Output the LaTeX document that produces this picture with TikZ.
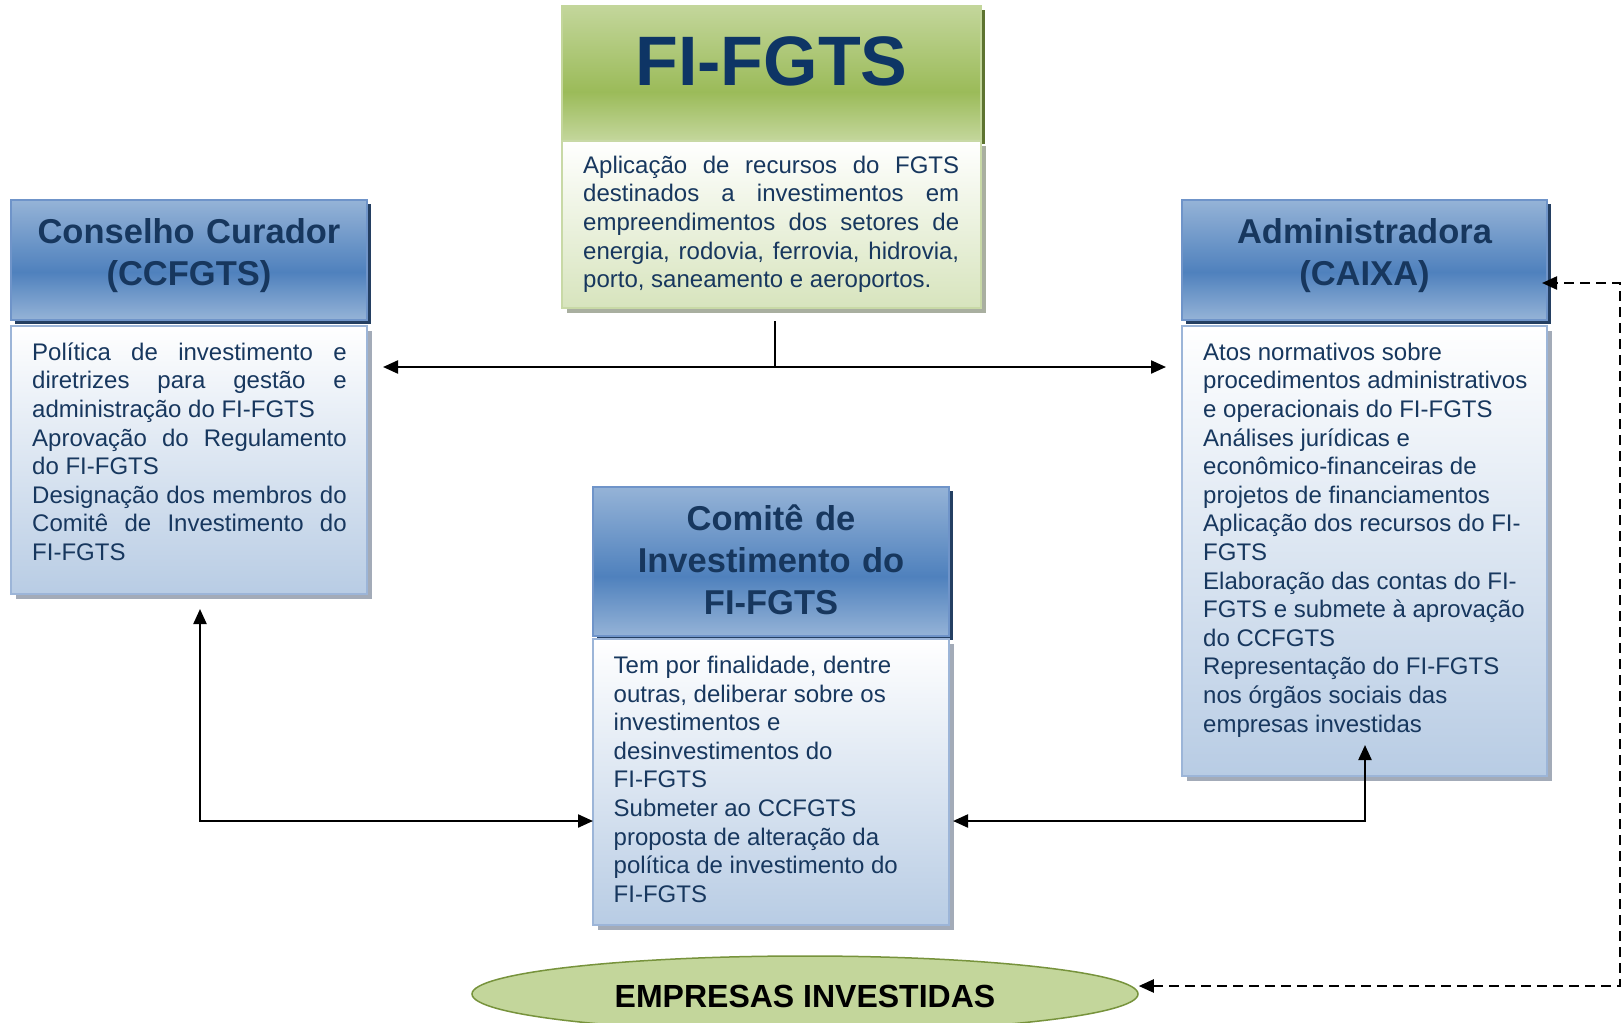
\documentclass[tikz,border=0pt]{standalone}
\usepackage{fontspec}
\setmainfont{Liberation Sans}
\usetikzlibrary{arrows.meta,calc,shapes.geometric,backgrounds}
\definecolor{navy}{HTML}{17375E}
\definecolor{ftitle}{HTML}{0E3565}
\definecolor{hbLight}{HTML}{95B3D7}
\definecolor{hbDark}{HTML}{4F81BD}
\definecolor{hbBorder}{HTML}{6F94C9}
\definecolor{hbShadow}{HTML}{243F62}
\definecolor{bbBottom}{HTML}{B8CCE4}
\definecolor{bbBorder}{HTML}{9CB5D8}
\definecolor{bbShadow}{HTML}{A3ABB8}
\definecolor{gLight}{HTML}{C3D69B}
\definecolor{gDark}{HTML}{9BBB59}
\definecolor{gBorder}{HTML}{C3D69B}
\definecolor{gShadow}{HTML}{5E7431}
\definecolor{gBodyBottom}{HTML}{D7E4BD}
\definecolor{gBodyBorder}{HTML}{C8D9A6}
\definecolor{gBodyShadow}{HTML}{A9AFA0}
\definecolor{ellFill}{HTML}{C3D69B}
\definecolor{ellBorder}{HTML}{77933C}
\pgfdeclareverticalshading{bluehdr}{100bp}{color(0bp)=(hbLight); color(25bp)=(hbLight); color(45bp)=(hbDark); color(75bp)=(hbLight); color(100bp)=(hbLight)}
\pgfdeclareverticalshading{greenhdr}{100bp}{color(0bp)=(gLight); color(25bp)=(gLight); color(43bp)=(gDark); color(75bp)=(gLight); color(100bp)=(gLight)}
\newcommand\tstrut[1]{\leavevmode\vrule width 0pt height #1\relax}
\newcommand\loosepar{\tolerance=10000\relax\hyphenpenalty=10000\relax}
\begin{document}
\begin{tikzpicture}[x=1pt,y=-1pt,
  boxbase/.style={rectangle, inner sep=0pt, outer sep=0pt, anchor=north west, line width=2pt},
  bluehead/.style={boxbase, draw=hbBorder, shade, shading=bluehdr},
  bluebody/.style={boxbase, draw=bbBorder, top color=white, bottom color=bbBottom},
  greenhead/.style={boxbase, draw=gBorder, shade, shading=greenhdr},
  greenbody/.style={boxbase, draw=gBodyBorder, top color=white, bottom color=gBodyBottom},
  titletext/.style={inner sep=0pt, anchor=north, align=center, text=navy, font=\bfseries\fontsize{34.5pt}{42pt}\selectfont},
  bodytext/.style={inner sep=0pt, anchor=north west, text=navy, align=justify, font=\fontsize{24pt}{28.6pt}\selectfont},
  conn/.style={line width=2.2pt, draw=black},
  biarr/.style={conn, {Triangle[length=15pt,width=13pt]}-{Triangle[length=15pt,width=13pt]}},
  dasharr/.style={biarr, dash pattern=on 10pt off 6pt}
]
\useasboundingbox (0,0) rectangle (1623,1023);

% boxes
\node[greenhead, minimum width=419pt, minimum height=134pt] (fg_h) at (562,6) {};
\node[greenbody, minimum width=419pt, minimum height=167pt] (fg_b) at (562,141) {};
\node[bluehead, minimum width=356pt, minimum height=120pt] (cc_h) at (11,200) {};
\node[bluebody, minimum width=356pt, minimum height=268pt] (cc_b) at (11,326) {};
\node[bluehead, minimum width=365pt, minimum height=120pt] (ad_h) at (1182,200) {};
\node[bluebody, minimum width=365pt, minimum height=450pt] (ad_b) at (1182,326) {};
\node[bluehead, minimum width=356pt, minimum height=149pt] (ci_h) at (593,487) {};
\node[bluebody, minimum width=356pt, minimum height=286pt] (ci_b) at (593,639) {};

% shadows
\begin{scope}[on background layer]
\fill[white] (0,0) rectangle (1623,1023);
\fill[gShadow] ($(fg_h.north west)+(4,4)$) rectangle ($(fg_h.south east)+(4,4)$);
\fill[gBodyShadow] ($(fg_b.north west)+(5,5)$) rectangle ($(fg_b.south east)+(5,5)$);
\foreach \n in {cc,ad,ci}{
  \fill[hbShadow] ($(\n_h.north west)+(4,4)$) rectangle ($(\n_h.south east)+(4,4)$);
  \fill[bbShadow] ($(\n_b.north west)+(5,5)$) rectangle ($(\n_b.south east)+(5,5)$);
}
\end{scope}

% titles
\node[inner sep=0pt, anchor=north, text=ftitle, font=\bfseries\fontsize{70pt}{80pt}\selectfont] (fg_t) at ($(fg_h.north)+(0,24)$) {\tstrut{55pt}FI-FGTS};
\node[titletext, text width=356pt] (cc_t) at ($(cc_h.north)+(0,13.3)$) {\tstrut{30pt}Conselho Curador\\(CCFGTS)};
\node[titletext, text width=365pt] (ad_t) at ($(ad_h.north)+(0,13.3)$) {\tstrut{30pt}Administradora\\(CAIXA)};
\node[titletext, text width=356pt] (ci_t) at ($(ci_h.north)+(0,13.7)$) {\tstrut{30pt}Comitê de\\Investimento do\\FI-FGTS};

% body texts
\node[bodytext, text width=376pt] (fg_x) at ($(fg_b.north west)+(21,12)$) {\loosepar\tstrut{20pt}Aplicação de recursos do FGTS\linebreak destinados a investimentos em\linebreak empreendimentos dos setores de\linebreak energia, rodovia, ferrovia, hidrovia,\linebreak porto, saneamento e aeroportos.};
\node[bodytext, text width=314.5pt] (cc_x) at ($(cc_b.north west)+(21,14)$) {\loosepar\tstrut{20pt}Política de investimento e\linebreak diretrizes para gestão e\linebreak administração do FI-FGTS\par Aprovação do Regulamento\linebreak do FI-FGTS\par Designação dos membros do\linebreak Comitê de Investimento do\linebreak FI-FGTS};
\node[bodytext, text width=335pt] (ad_x) at ($(ad_b.north west)+(21,14)$) {\loosepar\tstrut{20pt}Atos normativos sobre\par procedimentos administrativos\par e operacionais do FI-FGTS\par Análises jurídicas e\par econômico-financeiras de\par projetos de financiamentos\par Aplicação dos recursos do FI-\par FGTS\par Elaboração das contas do FI-\par FGTS e submete à aprovação\par do CCFGTS\par Representação do FI-FGTS\par nos órgãos sociais das\par empresas investidas};
\node[bodytext, text width=320pt] (ci_x) at ($(ci_b.north west)+(20.5,14.3)$) {\loosepar\tstrut{20pt}Tem por finalidade, dentre\par outras, deliberar sobre os\par investimentos e\par desinvestimentos do\par FI-FGTS\par Submeter ao CCFGTS\par proposta de alteração da\par política de investimento do\par FI-FGTS};

% ellipse
\node[ellipse, inner sep=0pt, minimum width=666pt, minimum height=76pt, fill=ellFill, draw=ellBorder, line width=1.5pt, font=\bfseries\fontsize{32pt}{38pt}\selectfont, text height=36pt, text depth=10pt] (emp) at (805,994) {EMPRESAS INVESTIDAS};

% connectors
\coordinate (jn) at (775,367);
\coordinate (ccR) at ($(cc_b.east)+(16,0)$);
\coordinate (adL) at ($(ad_b.west)+(-16,0)$);
\draw[conn] ($(fg_b.south)+(3.5,13)$) -- (jn);
\draw[biarr] (ccR |- jn) -- (adL |- jn);

\coordinate (lc) at (200,821);
\draw[biarr] ($(cc_b.south)+(11,15)$) -- (lc) -- (ci_b.west |- lc);

\coordinate (rc) at (1365,821);
\coordinate (ciR) at ($(ci_b.east)+(4,0)$);
\draw[biarr] (ciR |- rc) -- (rc) -- ($(ad_b.south)+(0.5,-31)$);

\coordinate (dr) at (1620,986);
\coordinate (dt) at (1620,283);
\coordinate (adhR) at ($(ad_h.east)+(-5,0)$);
\draw[dasharr] (emp.east |- dr) -- (dr) -- (dt) -- (adhR |- dt);
\end{tikzpicture}
\end{document}
